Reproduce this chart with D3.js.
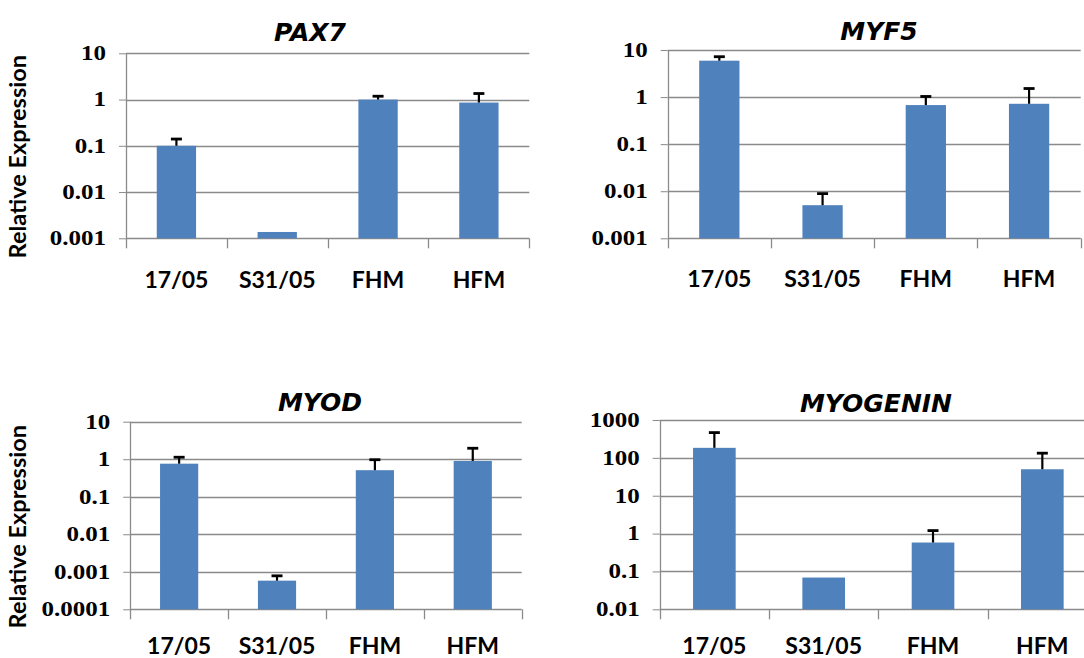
<!DOCTYPE html>
<html>
<head>
<meta charset="utf-8">
<script src="https://cdn.jsdelivr.net/npm/d3@7"></script>
<style>
  html, body { margin: 0; padding: 0; background: #fff; }
  svg { display: block; }
</style>
</head>
<body>
<svg id="chart" width="1084" height="658"></svg>
<script>
// Sample groups shown on every x axis
const samples = ["17/05", "S31/05", "FHM", "HFM"];

// Relative expression (bar height) and top of the error bar, per sample
const pax7Mean  = [0.1, 0.00137, 1.0, 0.86];
const pax7Upper = [0.14, null, 1.18, 1.35];

const myf5Mean  = [5.93, 0.00505, 0.676, 0.72];
const myf5Upper = [7.2, 0.0089, 1.03, 1.52];

const myodMean  = [0.76, 0.00058, 0.51, 0.9];
const myodUpper = [1.13, 0.00078, 0.97, 1.96];

const myogeninMean  = [184, 0.069, 0.58, 50];
const myogeninUpper = [465, null, 1.2, 133];

// Log-axis tick values for each panel
const pax7Ticks     = [0.001, 0.01, 0.1, 1, 10];
const myf5Ticks     = [0.001, 0.01, 0.1, 1, 10];
const myodTicks     = [0.0001, 0.001, 0.01, 0.1, 1, 10];
const myogeninTicks = [0.01, 0.1, 1, 10, 100, 1000];

const yTitle = "Relative Expression";

const svg = d3.select("#chart");
const barColor = "#4F81BD";
const gridColor = "#8a8a8a";
const labelFont = "Lato, 'Open Sans', sans-serif";
const titleFont = "'DejaVu Sans', Lato, sans-serif";
const tickFont = "'Liberation Serif', serif";

const panels = [
  { gene: "PAX7", mean: pax7Mean, upper: pax7Upper, ticks: pax7Ticks,
    left: 126, right: 529.3, top: 53.3, bottom: 238.3, labelY: 287.7,
    titleX: 310, titleY: 40.5, yTitleY: 156.7, showYTitle: true },
  { gene: "MYF5", mean: myf5Mean, upper: myf5Upper, ticks: myf5Ticks,
    left: 667.7, right: 1080.7, top: 50, bottom: 238.3, labelY: 287,
    titleX: 879, titleY: 40, showYTitle: false },
  { gene: "MYOD", mean: myodMean, upper: myodUpper, ticks: myodTicks,
    left: 130.2, right: 521.7, top: 421.7, bottom: 609.3, labelY: 654,
    titleX: 320, titleY: 410.5, yTitleY: 526.7, showYTitle: true },
  { gene: "MYOGENIN", mean: myogeninMean, upper: myogeninUpper, ticks: myogeninTicks,
    left: 659.7, right: 1097, top: 420, bottom: 609.3, labelY: 654,
    titleX: 876, titleY: 411.5, showYTitle: false }
];

const fmt = d3.format("~g");
const tickStretch = 1.25;

panels.forEach(p => {
  const g = svg.append("g");
  const ticks = p.ticks;

  const y = d3.scaleLog()
    .domain([ticks[0], ticks[ticks.length - 1]])
    .range([p.bottom, p.top]);

  const x = d3.scaleBand()
    .domain(samples)
    .range([p.left, p.right])
    .paddingInner(0.61)
    .paddingOuter(0.305);

  // horizontal gridlines
  g.append("g")
    .selectAll("line")
    .data(ticks)
    .join("line")
    .attr("x1", p.left).attr("x2", p.right)
    .attr("y1", d => Math.round(y(d)) + 0.5)
    .attr("y2", d => Math.round(y(d)) + 0.5)
    .attr("stroke", gridColor)
    .attr("stroke-width", 1.3);

  // y axis with short outer ticks and wide serif labels
  const yAxis = g.append("g")
    .attr("transform", `translate(${p.left},0)`)
    .call(d3.axisLeft(y).tickValues(ticks).tickFormat(fmt)
      .tickSizeInner(7).tickSizeOuter(0).tickPadding(13));
  yAxis.select(".domain").remove();
  yAxis.selectAll(".tick line").attr("stroke", gridColor);
  yAxis.selectAll(".tick text")
    .attr("x", 0)
    .attr("transform", `translate(-20,0) scale(${tickStretch},1)`)
    .attr("font-family", tickFont)
    .attr("font-weight", "bold")
    .attr("font-size", 20)
    .attr("fill", "#000");

  // vertical axis line, running down to the category tick length
  g.append("line")
    .attr("x1", Math.round(p.left) + 0.5).attr("x2", Math.round(p.left) + 0.5)
    .attr("y1", p.top).attr("y2", p.bottom + 10)
    .attr("stroke", gridColor).attr("stroke-width", 1.3);

  // category boundary ticks below the baseline
  const step = x.step();
  g.append("g")
    .selectAll("line")
    .data(d3.range(1, samples.length + 1))
    .join("line")
    .attr("x1", i => Math.round(p.left + i * step) + 0.5)
    .attr("x2", i => Math.round(p.left + i * step) + 0.5)
    .attr("y1", p.bottom).attr("y2", p.bottom + 10)
    .attr("stroke", gridColor).attr("stroke-width", 1.3);

  // bars
  const data = samples.map((s, i) => ({ s, v: p.mean[i], up: p.upper[i] }));
  g.append("g")
    .selectAll("rect")
    .data(data)
    .join("rect")
    .attr("x", d => x(d.s))
    .attr("width", x.bandwidth())
    .attr("y", d => y(d.v))
    .attr("height", d => p.bottom - y(d.v))
    .attr("fill", barColor);

  // upper error bars
  const eb = g.append("g")
    .selectAll("g")
    .data(data.filter(d => d.up != null))
    .join("g")
    .attr("stroke", "#000");
  eb.append("line")
    .attr("x1", d => x(d.s) + x.bandwidth() / 2)
    .attr("x2", d => x(d.s) + x.bandwidth() / 2)
    .attr("y1", d => y(d.v))
    .attr("y2", d => y(d.up))
    .attr("stroke-width", 2.2);
  eb.append("line")
    .attr("x1", d => x(d.s) + x.bandwidth() / 2 - 5.5)
    .attr("x2", d => x(d.s) + x.bandwidth() / 2 + 5.5)
    .attr("y1", d => y(d.up))
    .attr("y2", d => y(d.up))
    .attr("stroke-width", 2.8);

  // category labels
  const xAxis = g.append("g")
    .attr("transform", `translate(0,${p.bottom})`)
    .call(d3.axisBottom(x).tickSize(0));
  xAxis.select(".domain").remove();
  xAxis.selectAll(".tick text")
    .attr("y", p.labelY - p.bottom)
    .attr("dy", 0)
    .attr("font-family", labelFont)
    .attr("font-weight", "bold")
    .attr("font-size", 23)
    .attr("fill", "#000");

  // gene title
  g.append("text")
    .attr("x", p.titleX)
    .attr("y", p.titleY)
    .attr("text-anchor", "middle")
    .attr("font-family", titleFont)
    .attr("font-weight", "bold")
    .attr("font-style", "italic")
    .attr("font-size", 25)
    .attr("fill", "#000")
    .text(p.gene);

  if (p.showYTitle) {
    g.append("text")
      .attr("transform", `translate(26,${p.yTitleY}) rotate(-90)`)
      .attr("text-anchor", "middle")
      .attr("font-family", labelFont)
      .attr("font-weight", "bold")
      .attr("font-size", 23.5)
      .attr("fill", "#000")
      .text(yTitle);
  }
});
</script>
</body>
</html>
